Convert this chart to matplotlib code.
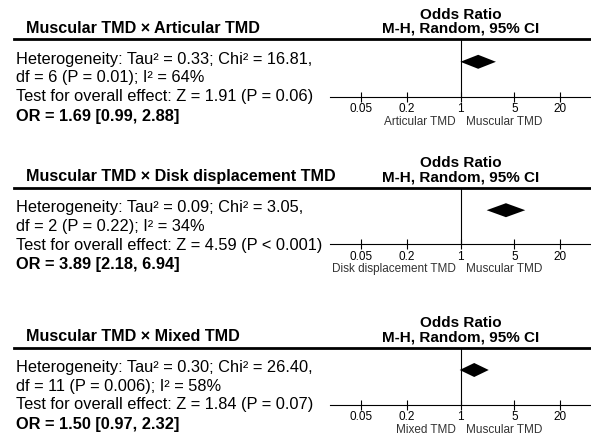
import numpy as np
import matplotlib.pyplot as plt
from matplotlib.lines import Line2D

plt.rcParams['font.family'] = ['Liberation Sans', 'DejaVu Sans']

# data for the three comparisons
titles = ['Muscular TMD \u00d7 Articular TMD',
          'Muscular TMD \u00d7 Disk displacement TMD',
          'Muscular TMD \u00d7 Mixed TMD']
left_labels = ['Articular TMD', 'Disk displacement TMD', 'Mixed TMD']
right_label = 'Muscular TMD'
or_est = [1.69, 3.89, 1.50]
ci_lo = [0.99, 2.18, 0.97]
ci_hi = [2.88, 6.94, 2.32]
tau2 = ['0.33', '0.09', '0.30']
chi2 = ['16.81', '3.05', '26.40']
dfs = [6, 2, 11]
p_het = ['0.01', '0.22', '0.006']
i2 = [64, 34, 58]
z_vals = ['1.91', '4.59', '1.84']
p_z = ['= 0.06', '< 0.001', '= 0.07']
tick_vals = [0.05, 0.2, 1, 5, 20]
tick_labels = ['0.05', '0.2', '1', '5', '20']

W, H = 591, 438
fig = plt.figure(figsize=(W / 100, H / 100), dpi=100)

# pixel positions (from top) of the header rule and the axis line in each panel
header_y = [39.3, 187.7, 347.5]
axis_y = [96.7, 244.3, 404.7]
ax_left = 330.4


def fx(x):
    return x / W


def fy(y):
    return 1 - y / H


for i in range(3):
    hy = header_y[i]
    ay = axis_y[i]

    # title + column header
    fig.text(fx(26), fy(hy - 11), titles[i], fontsize=11.6, fontweight='bold',
             va='center', ha='left')
    fig.text(fx(460.7), fy(hy - 24.5), 'Odds Ratio', fontsize=11, fontweight='bold',
             va='center', ha='center')
    fig.text(fx(460.7), fy(hy - 10.5), 'M-H, Random, 95% CI', fontsize=11,
             fontweight='bold', va='center', ha='center')
    fig.add_artist(Line2D([fx(14), fx(591)], [fy(hy), fy(hy)], color='black', lw=2))

    # summary text
    lines = ['Heterogeneity: Tau\u00b2 = %s; Chi\u00b2 = %s,' % (tau2[i], chi2[i]),
             'df = %d (P = %s); I\u00b2 = %d%%' % (dfs[i], p_het[i], i2[i]),
             'Test for overall effect: Z = %s (P %s)' % (z_vals[i], p_z[i])]
    offs = [20, 38.5, 57.5]
    for t, o in zip(lines, offs):
        fig.text(fx(16), fy(hy + o), t, fontsize=11.8, va='center', ha='left')
    fig.text(fx(16), fy(hy + 77), 'OR = %.2f [%.2f, %.2f]' % (or_est[i], ci_lo[i], ci_hi[i]),
             fontsize=11.8, fontweight='bold', va='center', ha='left')

    # forest axis
    ax = fig.add_axes([fx(ax_left), fy(ay), (W - ax_left) / W, (ay - hy) / H])
    ax.set_xscale('log')
    ax.set_xlim(0.02, 50)
    ax.set_ylim(0, 1)
    for s in ['top', 'right', 'left']:
        ax.spines[s].set_visible(False)
    ax.spines['bottom'].set_linewidth(0.8)
    ax.set_yticks([])
    ax.set_xticks(tick_vals)
    ax.set_xticklabels(tick_labels)
    ax.xaxis.set_minor_locator(plt.NullLocator())
    ax.tick_params(axis='x', direction='inout', length=7, width=0.8, labelsize=8.5, pad=1)
    ax.axvline(1, color='black', lw=0.8)

    yc = 1 - (22.5 / (ay - hy))
    hh = 7 / (ay - hy)
    ax.fill([ci_lo[i], or_est[i], ci_hi[i], or_est[i]], [yc, yc + hh, yc, yc - hh],
            color='black', lw=0)

    ax.annotate(left_labels[i], xy=(1, 0), xycoords=('data', 'axes fraction'),
                xytext=(-5, -25), textcoords='offset pixels', ha='right', va='center',
                fontsize=8.5, color='#333333')
    ax.annotate(right_label, xy=(1, 0), xycoords=('data', 'axes fraction'),
                xytext=(5, -25), textcoords='offset pixels', ha='left', va='center',
                fontsize=8.5, color='#333333')

fig.savefig('out.png', dpi=100)
